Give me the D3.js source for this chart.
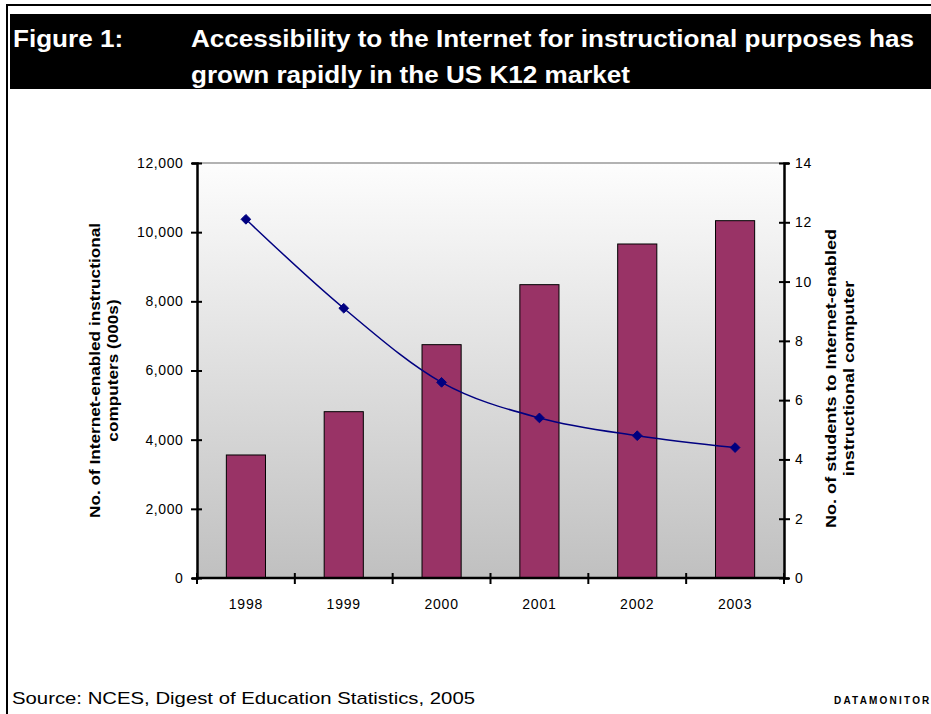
<!DOCTYPE html>
<html>
<head>
<meta charset="utf-8">
<script src="https://cdn.jsdelivr.net/npm/d3@7"></script>
<style>
  html, body { margin: 0; padding: 0; background: #fff; }
  svg { display: block; font-family: "Liberation Sans", Arial, sans-serif; }
</style>
</head>
<body>
<svg id="chart" width="931" height="714"></svg>
<script>
// ---- data ----
const years = ["1998", "1999", "2000", "2001", "2002", "2003"];
const computers = [3557, 4809, 6747, 8482, 9658, 10332];   // 000s, left axis (bars)
const studentsPerComputer = [12.1, 9.1, 6.6, 5.4, 4.8, 4.4]; // right axis (line)
const leftTicks = [0, 2000, 4000, 6000, 8000, 10000, 12000];
const rightTicks = [0, 2, 4, 6, 8, 10, 12, 14];

const titleLines = ["Accessibility to the Internet for instructional purposes has",
                    "grown rapidly in the US K12 market"];
const leftTitle = ["No. of Internet-enabled instructional", "computers (000s)"];
const rightTitle = ["No. of students to Internet-enabled", "instructional computer"];

const svg = d3.select("#chart");

// stretch a group of texts horizontally by a common factor so that the first matches targetWidth
function stretch(sel, targetWidth) {
  const nodes = sel.nodes();
  const k = targetWidth / nodes[0].getComputedTextLength();
  nodes.forEach(n => {
    const w = n.getComputedTextLength();
    d3.select(n).attr("textLength", w * k).attr("lengthAdjust", "spacingAndGlyphs");
  });
}

// ---- frame ----
svg.append("line").attr("x1", 6).attr("x2", 931).attr("y1", 5).attr("y2", 5)
  .attr("stroke", "#000").attr("stroke-width", 2);
svg.append("line").attr("x1", 7).attr("x2", 7).attr("y1", 4).attr("y2", 714)
  .attr("stroke", "#000").attr("stroke-width", 2);

// ---- title bar ----
svg.append("rect").attr("x", 10).attr("y", 14).attr("width", 921).attr("height", 75).attr("fill", "#000");
const tg = svg.append("g").attr("fill", "#fff").attr("font-weight", "bold").attr("font-size", 23);
titleLines.forEach((t, i) => {
  tg.append("text").attr("class", "tl").attr("x", 191).attr("y", 47 + i * 36).text(t);
});
tg.append("text").attr("class", "tl").attr("x", 13).attr("y", 47).text("Figure 1:");
stretch(tg.selectAll("text.tl"), 723);

// ---- plot ----
const x0 = 197, x1 = 784, yTop = 163, yBot = 578;
const band = d3.scaleBand().domain(years).range([x0, x1]);
const yL = d3.scaleLinear().domain([0, 12000]).range([yBot, yTop]);
const yR = d3.scaleLinear().domain([0, 14]).range([yBot, yTop]);

const defs = svg.append("defs");
const grad = defs.append("linearGradient").attr("id", "bg").attr("x1", 0).attr("x2", 0).attr("y1", 0).attr("y2", 1);
grad.append("stop").attr("offset", "0%").attr("stop-color", "#fdfdfd");
grad.append("stop").attr("offset", "100%").attr("stop-color", "#c0c0c0");

svg.append("rect").attr("x", x0).attr("y", yTop).attr("width", x1 - x0).attr("height", yBot - yTop)
  .attr("fill", "url(#bg)");
svg.append("line").attr("x1", x0).attr("x2", x1).attr("y1", yTop).attr("y2", yTop)
  .attr("stroke", "#999").attr("stroke-width", 1.5);

// bars
svg.append("g").selectAll("rect").data(years).join("rect")
  .attr("x", d => band(d) + band.bandwidth() / 2 - band.bandwidth() * 0.2)
  .attr("width", band.bandwidth() * 0.4)
  .attr("y", (d, i) => yL(computers[i]))
  .attr("height", (d, i) => yBot - yL(computers[i]))
  .attr("fill", "#993366").attr("stroke", "#000").attr("stroke-width", 1);

// line
const pts = years.map((d, i) => [band(d) + band.bandwidth() / 2, yR(studentsPerComputer[i])]);
svg.append("path").attr("d", d3.line().curve(d3.curveCatmullRom.alpha(0))(pts))
  .attr("fill", "none").attr("stroke", "#000080").attr("stroke-width", 1.5);
svg.append("g").selectAll("path").data(pts).join("path")
  .attr("transform", p => `translate(${p[0]},${p[1]})`)
  .attr("d", d3.symbol().type(d3.symbolDiamond2).size(60))
  .attr("fill", "#000080").attr("stroke", "#000080");

// axes
const axL = svg.append("g").attr("transform", `translate(${x0},0)`)
  .call(d3.axisLeft(yL).tickValues(leftTicks).tickFormat(d3.format(",")).tickSize(5).tickPadding(9));
const axR = svg.append("g").attr("transform", `translate(${x1},0)`)
  .call(d3.axisRight(yR).tickValues(rightTicks).tickSize(5).tickPadding(6));
const axB = svg.append("g").attr("transform", `translate(0,${yBot})`)
  .call(d3.axisBottom(band).tickSize(0).tickPadding(21));

[axL, axR, axB].forEach(a => {
  a.select(".domain").attr("stroke", "#000").attr("stroke-width", 2.5);
  a.selectAll("text").attr("font-size", 14).attr("fill", "#000")
    .attr("font-family", "'Liberation Sans', Arial, sans-serif");
});
axL.selectAll("text").attr("letter-spacing", 0.6).attr("dx", 0.5);
axR.selectAll("text").attr("letter-spacing", 0.6);
axB.selectAll("text").attr("letter-spacing", 0.8);
axL.selectAll(".tick line").attr("x1", 5).attr("x2", -6).attr("stroke", "#000").attr("stroke-width", 2);
axR.selectAll(".tick line").attr("x1", -5).attr("x2", 6).attr("stroke", "#000").attr("stroke-width", 2);
axB.select(".domain").attr("d", `M${x0},0H${x1}`);
// category boundary ticks on bottom axis
const bounds = years.map(d => band(d)).concat([x1]);
axB.selectAll(".bt").data(bounds).join("line").attr("class", "bt")
  .attr("x1", d => d).attr("x2", d => d).attr("y1", -5).attr("y2", 6)
  .attr("stroke", "#000").attr("stroke-width", 2);

// axis titles
const cy = (yTop + yBot) / 2;
const lt = svg.append("g").attr("font-weight", "bold").attr("font-size", 15);
leftTitle.forEach((t, i) => {
  lt.append("text").attr("transform", `translate(${100 + i * 18},${cy}) rotate(-90)`)
    .attr("text-anchor", "middle").text(t);
});
stretch(lt.selectAll("text"), 295);
const rt = svg.append("g").attr("font-weight", "bold").attr("font-size", 15);
rightTitle.forEach((t, i) => {
  rt.append("text").attr("transform", `translate(${836 + i * 18},${cy + 8}) rotate(-90)`)
    .attr("text-anchor", "middle").text(t);
});
stretch(rt.selectAll("text"), 299);

// footer
const src = svg.append("text").attr("x", 12).attr("y", 704).attr("font-size", 17)
  .text("Source: NCES, Digest of Education Statistics, 2005");
stretch(src, 463);
svg.append("text").attr("x", 834).attr("y", 704).attr("font-size", 10).attr("font-weight", "bold")
  .attr("letter-spacing", 2.2).text("DATAMONITOR");
</script>
</body>
</html>
